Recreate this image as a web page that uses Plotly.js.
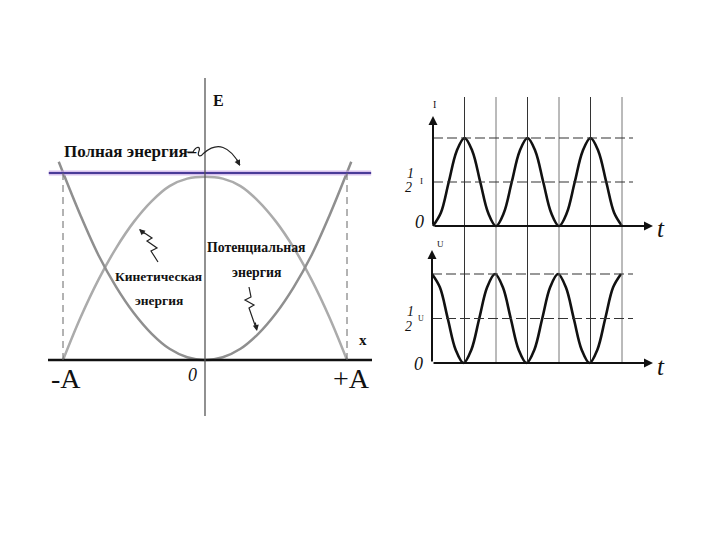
<!DOCTYPE html>
<html><head><meta charset="utf-8">
<script src="https://cdn.plot.ly/plotly-3.0.1.min.js"></script>
<style>html,body{margin:0;padding:0;background:#fff}#chart{width:720px;height:540px}</style>
</head><body><div id="chart"></div>
<script>
// ---------- DATA ----------
// Left chart: energy vs displacement (x in units of A, E in units of total energy)
const potX = [-1.03,-0.875,-0.75,-0.625,-0.5,-0.375,-0.25,-0.125,0,0.125,0.25,0.375,0.5,0.625,0.75,0.875,1.03];
const potE = [1.06,0.77,0.56,0.39,0.25,0.14,0.06,0.015,0,0.015,0.06,0.14,0.25,0.39,0.56,0.77,1.06];
const kinX = [-1,-0.875,-0.75,-0.625,-0.5,-0.375,-0.25,-0.125,0,0.125,0.25,0.375,0.5,0.625,0.75,0.875,1];
const kinE = [0,0.23,0.43,0.6,0.74,0.85,0.93,0.97,0.98,0.97,0.93,0.85,0.74,0.6,0.43,0.23,0];
const totX = [-1.1,1.17];
const totE = [1,1];
const ampMarks = [-1,1];
const leftTickText = ['-A','0','+A'];
const leftLabels = {total:'Полная энергия–', kin1:'Кинетическая', kin2:'энергия', pot1:'Потенциальная', pot2:'энергия', E:'E', x:'x'};

// Right charts: time in quarter periods
const tQ = [0,0.25,0.5,0.75,1,1.25,1.5,1.75,2,2.25,2.5,2.75,3,3.25,3.5,3.75,4,4.25,4.5,4.75,5,5.25,5.5,5.75,6];
const currentI = [0,0.15,0.5,0.85,1,0.85,0.5,0.15,0,0.15,0.5,0.85,1,0.85,0.5,0.15,0,0.15,0.5,0.85,1,0.85,0.5,0.15,0];
const voltageU = [1,0.85,0.5,0.15,0,0.15,0.5,0.85,1,0.85,0.5,0.15,0,0.15,0.5,0.85,1,0.85,0.5,0.15,0,0.15,0.5,0.85,1];
const gridT = [1,2,3,4,5,6];
const levels = [0.5,1];
const rightTickText = ['0','1','2'];
const rightNames = ['I','U'];

// ---------- LAYOUT HELPERS (pixel geometry) ----------
const W=720,H=540;
const PX = p => p/W, PY = p => 1-p/H;
function xAx(p0,p1,zero,scale){return {domain:[PX(p0),PX(p1)],range:[(p0-zero)/scale,(p1-zero)/scale],visible:false,fixedrange:true};}
function yAx(top,bot,zero,scale){return {domain:[PY(bot),PY(top)],range:[(zero-bot)/scale,(zero-top)/scale],visible:false,fixedrange:true};}

const L = {x0:205, sx:142, y0:360, sy:187};
const T = {x0:433, sx:31.5, y0:226, sy:88};
const B = {x0:432, sx:31.5, y0:363, sy:89};

const serif = 'Liberation Serif, Times New Roman, serif';
const gray1='#8f8f8f', gray2='#ababab';

const traces = [
  {x:kinX,y:kinE,xaxis:'x',yaxis:'y',mode:'lines',line:{color:gray2,width:2.5,shape:'spline'},hoverinfo:'skip'},
  {x:potX,y:potE,xaxis:'x',yaxis:'y',mode:'lines',line:{color:gray1,width:2.5,shape:'spline'},hoverinfo:'skip'},
  {x:totX,y:totE,xaxis:'x',yaxis:'y',mode:'lines',line:{color:'#c8a6e6',width:5},opacity:0.7,hoverinfo:'skip'},
  {x:totX,y:totE,xaxis:'x',yaxis:'y',mode:'lines',line:{color:'#4a3c98',width:2.2},hoverinfo:'skip'},
  {x:tQ,y:currentI,xaxis:'x2',yaxis:'y2',mode:'lines',line:{color:'#111',width:2.6,shape:'spline'},hoverinfo:'skip'},
  {x:tQ,y:voltageU,xaxis:'x3',yaxis:'y3',mode:'lines',line:{color:'#111',width:2.6,shape:'spline'},hoverinfo:'skip'}
];

const shapes = [];
// left axes
shapes.push({type:'line',xref:'x',yref:'y',x0:(48-L.x0)/L.sx,x1:(372-L.x0)/L.sx,y0:0,y1:0,line:{color:'#111',width:2.6}});
shapes.push({type:'line',xref:'x',yref:'y',x0:0,x1:0,y0:(L.y0-416)/L.sy,y1:(L.y0-78)/L.sy,line:{color:'#555',width:1.3}});
ampMarks.forEach(a=>shapes.push({type:'line',xref:'x',yref:'y',x0:a,x1:a,y0:0,y1:totE[0],line:{color:'#666',width:1,dash:'7px,5px'}}));
// right vertical grid lines spanning both charts
gridT.forEach((t,i)=>shapes.push({type:'line',xref:'x2',yref:'paper',x0:t,x1:t,y0:PY(363),y1:PY(97),line:{color:i%2===0?'#333':'#777',width:1}}));
// right dashed levels
levels.forEach(v=>{
  shapes.push({type:'line',xref:'x2',yref:'y2',x0:0,x1:(633-T.x0)/T.sx,y0:v,y1:v,line:{color:'#333',width:1.2,dash:'10px,4px'}});
  shapes.push({type:'line',xref:'x3',yref:'y3',x0:0,x1:(633-B.x0)/B.sx,y0:v,y1:v,line:{color:'#333',width:1.2,dash:'10px,4px'}});
});
// callout paths (pixel -> paper)
function path(pts){return pts.map(s=>s.replace(/(-?\d+\.?\d*),(-?\d+\.?\d*)/g,(m,a,b)=>PX(+a).toFixed(5)+','+PY(+b).toFixed(5))).join(' ');}
shapes.push({type:'path',xref:'paper',yref:'paper',path:path(['M186,152','L193,152','C196,146','201,146','199,151','C197,156','200,158','204,153','Q224,136','240,165']),line:{color:'#222',width:1.2}});
shapes.push({type:'path',xref:'paper',yref:'paper',path:path(['M158,262','L151,251','L157,248','L147,241','L152,238','L140,230']),line:{color:'#222',width:1.2}});
shapes.push({type:'path',xref:'paper',yref:'paper',path:path(['M249,287','L251,297','L245,300','L254,305','L249,308','L256,328']),line:{color:'#222',width:1.2}});

const ann = [];
function txt(t,px,py,size,opts){ann.push(Object.assign({text:t,x:PX(px),y:PY(py),xref:'paper',yref:'paper',showarrow:false,xanchor:'center',yanchor:'middle',font:{family:serif,size:size,color:'#111'}},opts||{}));}
function head(px,py,ax,ay){ann.push({text:'',x:PX(px),y:PY(py),xref:'paper',yref:'paper',showarrow:true,arrowhead:2,arrowsize:1,arrowwidth:1.2,arrowcolor:'#222',ax:ax,ay:ay});}
function axisArrow(xref,yref,x,y,ax,ay){ann.push({text:'',x:x,y:y,xref:xref,yref:yref,showarrow:true,arrowhead:2,arrowsize:0.9,arrowwidth:2,arrowcolor:'#111',ax:ax,ay:ay,standoff:0,startstandoff:0});}

// left labels
txt('<b>'+leftLabels.E+'</b>',219,101,16);
txt('<b>'+leftLabels.total+'</b>',62,152,17,{xanchor:'left'});
txt('<b>'+leftLabels.kin1+'</b>',158,276,13.5);
txt('<b>'+leftLabels.kin2+'</b>',159,300,13.5);
txt('<b>'+leftLabels.pot1+'</b>',256,247,13.8);
txt('<b>'+leftLabels.pot2+'</b>',257,272,13.8);
txt('<b>'+leftLabels.x+'</b>',363,340,15);
txt(leftTickText[0],66,378,28);
txt('<i>'+leftTickText[1]+'</i>',192,375,18);
txt(leftTickText[2],351,378,28);
head(240,166,-4,-8);
head(139,229,7,6);
head(257,331,-2,-10);

// right axes with arrows
axisArrow('x2','y2',0,(T.y0-116)/T.sy,0,110);
axisArrow('x2','y2',(653-T.x0)/T.sx,0,-220,0);
axisArrow('x3','y3',0,(B.y0-250)/B.sy,0,113);
axisArrow('x3','y3',(653-B.x0)/B.sx,0,-221,0);
// right labels
txt(rightNames[0],434,104,10);
txt(rightNames[1],440,244,9);
txt('<i>t</i>',661,228,25);
txt('<i>t</i>',661,366,25);
txt('<i>'+rightTickText[0]+'</i>',419,222,18);
txt('<i>'+rightTickText[0]+'</i>',418,364,18);
txt('<i>'+rightTickText[1]+'</i>',410,173,14);
txt('<i>'+rightTickText[2]+'</i>',408,188,14);
txt(rightNames[0],421,181,9);
txt('<i>'+rightTickText[1]+'</i>',410,311,14);
txt('<i>'+rightTickText[2]+'</i>',408,326,14);
txt(rightNames[1],421,318,8);

const layout = {
  width:W,height:H,margin:{l:0,r:0,t:0,b:0},showlegend:false,
  paper_bgcolor:'#fff',plot_bgcolor:'rgba(0,0,0,0)',
  xaxis:Object.assign(xAx(48,372,L.x0,L.sx),{anchor:'y'}),
  yaxis:Object.assign(yAx(76,418,L.y0,L.sy),{anchor:'x'}),
  xaxis2:Object.assign(xAx(400,690,T.x0,T.sx),{anchor:'y2'}),
  yaxis2:Object.assign(yAx(92,238,T.y0,T.sy),{anchor:'x2'}),
  xaxis3:Object.assign(xAx(400,690,B.x0,B.sx),{anchor:'y3'}),
  yaxis3:Object.assign(yAx(240,392,B.y0,B.sy),{anchor:'x3'}),
  shapes:shapes,annotations:ann
};
Plotly.newPlot('chart',traces,layout,{staticPlot:true,displayModeBar:false});
</script></body></html>
